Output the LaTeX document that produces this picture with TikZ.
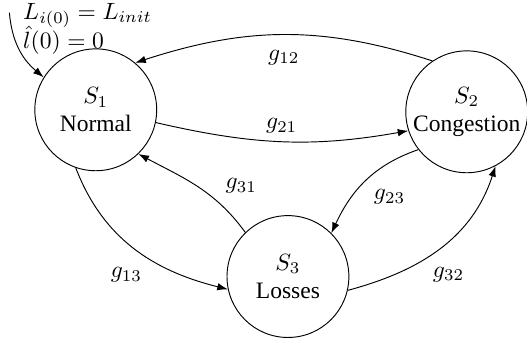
\documentclass[tikz,border=0pt]{standalone}
\usepackage{fontspec}
\setmainfont{Liberation Serif}
\usepackage{tikz}
\usetikzlibrary{automata}
\usetikzlibrary{positioning}
\usetikzlibrary{arrows.meta}
\tikzset{node distance=2.5cm,
every state/.style={ % Sets the properties for each state
thin,
minimum size=1.82cm,
inner sep=0pt,
align=center},
every edge/.style={ % Sets the properties for each transition
draw,
-{Latex[length=4.5pt,width=3.2pt]}, % Filled arrowheads
auto,
thin}}
\usepackage{amsmath, amssymb}

\begin{document}
\begin{tikzpicture}
\useasboundingbox (-1.43,-3.48) rectangle (6.44,1.64);
\node[state] (S1) at (0,0) {$S_1$\\Normal};
\node[state] (S2) at (5.54,-0.03) {$S_2$\\Congestion};
\node[state] (S3) at (2.87,-2.49) {$S_3$\\Losses};
% initial condition
\coordinate (init) at (-1.29,1.45);
\node[anchor=north west, inner sep=0pt, align=left] (cond) at (-1.09,1.60)
  {$L_{i(0)} = L_{init}$\\[-1.5pt] $\hat{l}(0) = 0$};
\draw (init) edge[out=-85,in=140] (S1.148);
% transitions
\draw (S2.124) edge[out=162,in=18] node[yshift=-3pt] {$g_{12}$} (S1.50);
\draw (S1.-12) edge[out=-13,in=190] node {$g_{21}$} (S2.198);
\draw (S2.218) edge[out=199,in=65] node {$g_{23}$} (S3.45);
\draw (S3.134) edge[out=126,in=-28,swap] node[pos=0.3] {$g_{31}$} (S1.-46);
\draw (S1.251) edge[out=-69,in=166,swap] node[pos=0.6] {$g_{13}$} (S3.192);
\draw (S3.-13) edge[out=15,in=252,swap] node[pos=0.4] {$g_{32}$} (S2.298);
\end{tikzpicture}
\end{document}
